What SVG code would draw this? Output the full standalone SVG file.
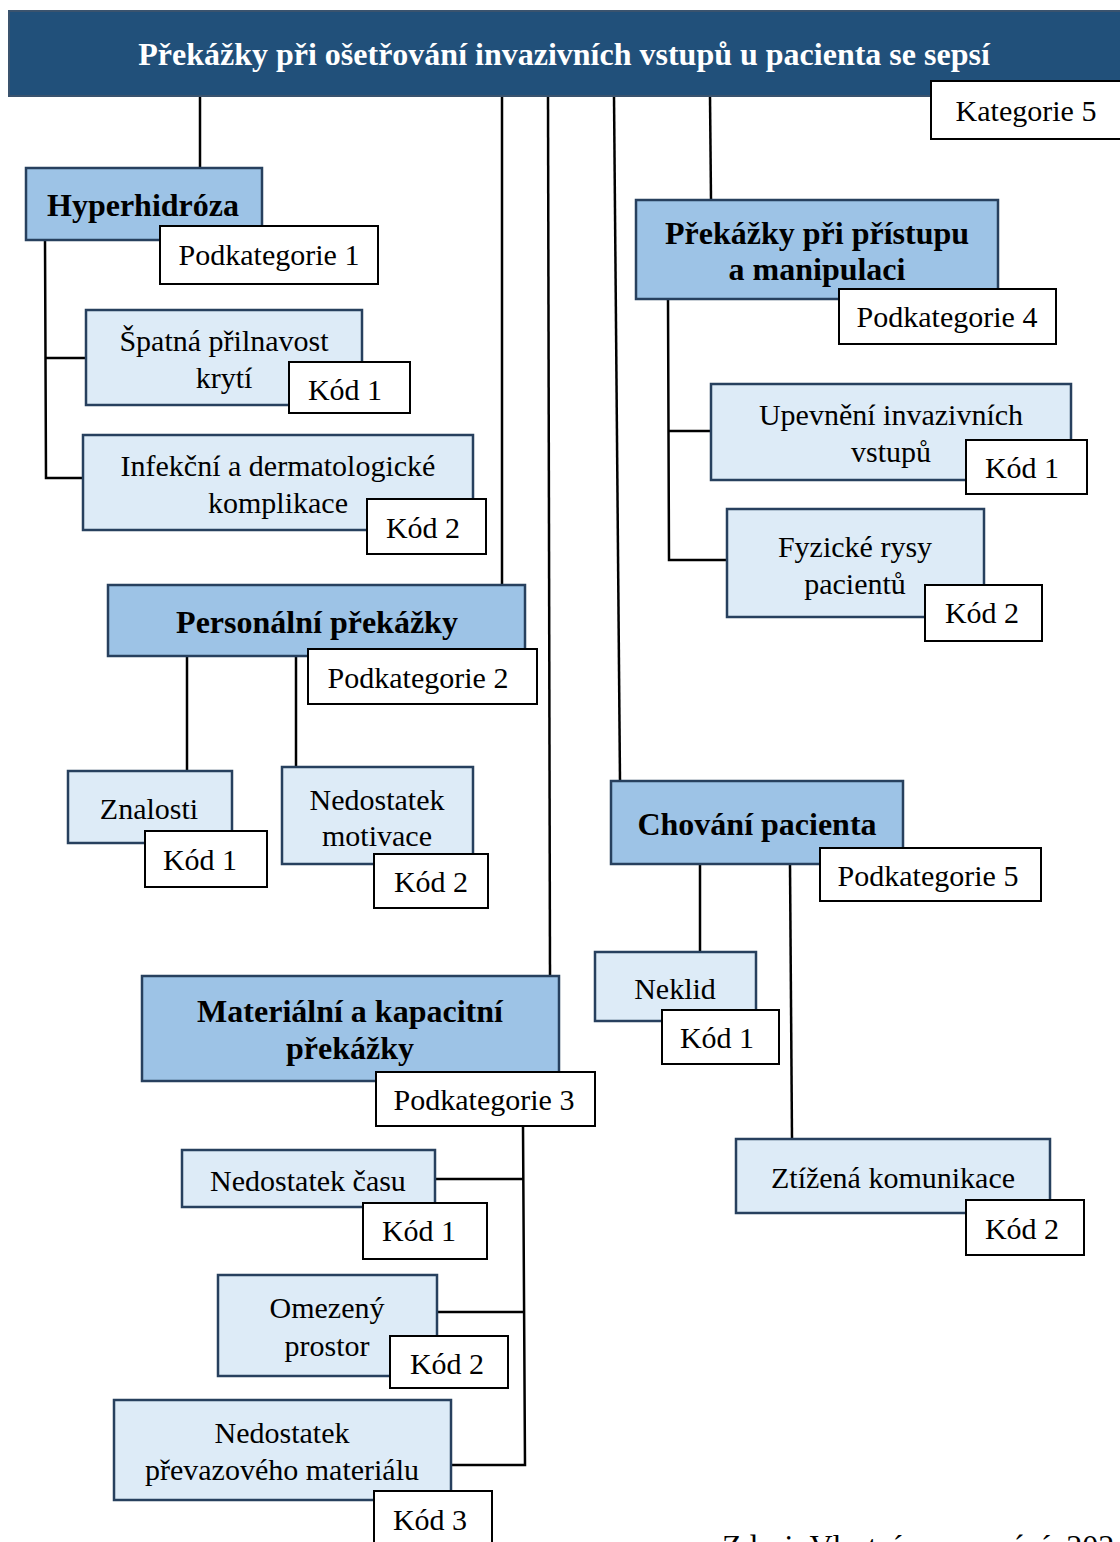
<svg xmlns="http://www.w3.org/2000/svg" width="1120" height="1542" viewBox="0 0 1120 1542">
<style>
.top{fill:#21507a;stroke:#3a536e;stroke-width:2}
.sub{fill:#9dc3e6;stroke:#27405e;stroke-width:2.5}
.leaf{fill:#ddebf7;stroke:#27405e;stroke-width:2.5}
.tag{fill:#ffffff;stroke:#000000;stroke-width:2}
text{font-family:"Liberation Serif","Times New Roman",serif;fill:#000;text-anchor:middle}
.t{font-size:32px;font-weight:bold;fill:#ffffff}
.b{font-size:32px;font-weight:bold}
.n{font-size:30px}
.conn line,.conn polyline{stroke:#000;stroke-width:2.5;fill:none}
</style>
<rect width="1120" height="1542" fill="#ffffff"/>
<g class="conn" id="connectors">
<line x1="200" y1="96" x2="200" y2="168"/>
<line x1="502" y1="96" x2="502" y2="585"/>
<line x1="548" y1="96" x2="550" y2="976"/>
<line x1="614" y1="96" x2="620" y2="781"/>
<line x1="710" y1="96" x2="711" y2="200"/>
<polyline points="45,240 46,478 83,478"/>
<line x1="46" y1="358" x2="86" y2="358"/>
<line x1="187" y1="656" x2="187" y2="771"/>
<line x1="296" y1="656" x2="296" y2="767"/>
<polyline points="435,1179 523,1179"/>
<polyline points="523,1126 525,1465 452,1465"/>
<line x1="437" y1="1312" x2="524" y2="1312"/>
<polyline points="668,299 669,560 727,560"/>
<line x1="668" y1="431" x2="711" y2="431"/>
<line x1="700" y1="864" x2="700" y2="952"/>
<line x1="790" y1="864" x2="792" y2="1139"/>
</g>
<g id="root">
<rect class="top" x="9" y="11" width="1120" height="85"/>
<text class="t" x="564" y="65">Překážky při ošetřování invazivních vstupů u pacienta se sepsí</text>
<rect class="tag" x="931" y="81" width="192" height="58"/>
<text class="n" x="1026" y="121">Kategorie 5</text>
</g>
<g id="hyperhidroza">
<rect class="sub" x="26" y="168" width="236" height="72"/>
<text class="b" x="143" y="216">Hyperhidróza</text>
<rect class="tag" x="160" y="226" width="218" height="58"/>
<text class="n" x="269" y="265">Podkategorie 1</text>
</g>
<g id="spatna">
<rect class="leaf" x="86" y="310" width="276" height="95"/>
<text class="n" x="224" y="351">Špatná přilnavost</text>
<text class="n" x="224" y="388">krytí</text>
<rect class="tag" x="289" y="362" width="121" height="51"/>
<text class="n" x="345" y="400">Kód 1</text>
</g>
<g id="infekcni">
<rect class="leaf" x="83" y="435" width="390" height="95"/>
<text class="n" x="278" y="476">Infekční a dermatologické</text>
<text class="n" x="278" y="513">komplikace</text>
<rect class="tag" x="367" y="499" width="119" height="55"/>
<text class="n" x="423" y="538">Kód 2</text>
</g>
<g id="personalni">
<rect class="sub" x="108" y="585" width="417" height="71"/>
<text class="b" x="317" y="633">Personální překážky</text>
<rect class="tag" x="308" y="649" width="229" height="55"/>
<text class="n" x="418" y="688">Podkategorie 2</text>
</g>
<g id="znalosti">
<rect class="leaf" x="68" y="771" width="164" height="72"/>
<text class="n" x="149" y="819">Znalosti</text>
<rect class="tag" x="145" y="831" width="122" height="56"/>
<text class="n" x="200" y="870">Kód 1</text>
</g>
<g id="motivace">
<rect class="leaf" x="282" y="767" width="191" height="97"/>
<text class="n" x="377" y="810">Nedostatek</text>
<text class="n" x="377" y="846">motivace</text>
<rect class="tag" x="374" y="854" width="114" height="54"/>
<text class="n" x="431" y="892">Kód 2</text>
</g>
<g id="materialni">
<rect class="sub" x="142" y="976" width="417" height="105"/>
<text class="b" x="350" y="1022">Materiální a kapacitní</text>
<text class="b" x="350" y="1059">překážky</text>
<rect class="tag" x="376" y="1072" width="219" height="54"/>
<text class="n" x="484" y="1110">Podkategorie 3</text>
</g>
<g id="cas">
<rect class="leaf" x="182" y="1150" width="253" height="57"/>
<text class="n" x="308" y="1191">Nedostatek času</text>
<rect class="tag" x="363" y="1203" width="124" height="56"/>
<text class="n" x="419" y="1241">Kód 1</text>
</g>
<g id="prostor">
<rect class="leaf" x="218" y="1275" width="219" height="101"/>
<text class="n" x="327" y="1318">Omezený</text>
<text class="n" x="327" y="1356">prostor</text>
<rect class="tag" x="390" y="1336" width="118" height="52"/>
<text class="n" x="447" y="1374">Kód 2</text>
</g>
<g id="material">
<rect class="leaf" x="114" y="1400" width="337" height="100"/>
<text class="n" x="282" y="1443">Nedostatek</text>
<text class="n" x="282" y="1480">převazového materiálu</text>
<rect class="tag" x="374" y="1491" width="118" height="60"/>
<text class="n" x="430" y="1530">Kód 3</text>
</g>
<g id="pristup">
<rect class="sub" x="636" y="200" width="362" height="99"/>
<text class="b" x="817" y="244">Překážky při přístupu</text>
<text class="b" x="817" y="280">a manipulaci</text>
<rect class="tag" x="839" y="289" width="217" height="55"/>
<text class="n" x="947" y="327">Podkategorie 4</text>
</g>
<g id="upevneni">
<rect class="leaf" x="711" y="384" width="360" height="96"/>
<text class="n" x="891" y="425">Upevnění invazivních</text>
<text class="n" x="891" y="462">vstupů</text>
<rect class="tag" x="966" y="440" width="121" height="54"/>
<text class="n" x="1022" y="478">Kód 1</text>
</g>
<g id="fyzicke">
<rect class="leaf" x="727" y="509" width="257" height="108"/>
<text class="n" x="855" y="557">Fyzické rysy</text>
<text class="n" x="855" y="594">pacientů</text>
<rect class="tag" x="925" y="585" width="117" height="56"/>
<text class="n" x="982" y="623">Kód 2</text>
</g>
<g id="chovani">
<rect class="sub" x="611" y="781" width="292" height="83"/>
<text class="b" x="757" y="835">Chování pacienta</text>
<rect class="tag" x="820" y="848" width="221" height="53"/>
<text class="n" x="928" y="886">Podkategorie 5</text>
</g>
<g id="neklid">
<rect class="leaf" x="595" y="952" width="161" height="69"/>
<text class="n" x="675" y="999">Neklid</text>
<rect class="tag" x="662" y="1010" width="117" height="54"/>
<text class="n" x="717" y="1048">Kód 1</text>
</g>
<g id="komunikace">
<rect class="leaf" x="736" y="1139" width="314" height="74"/>
<text class="n" x="893" y="1188">Ztížená komunikace</text>
<rect class="tag" x="966" y="1200" width="118" height="55"/>
<text class="n" x="1022" y="1239">Kód 2</text>
</g>
<text class="n" x="722" y="1557" style="text-anchor:start;font-size:32px">Zdroj: Vlastní zpracování, 202</text>
</svg>
